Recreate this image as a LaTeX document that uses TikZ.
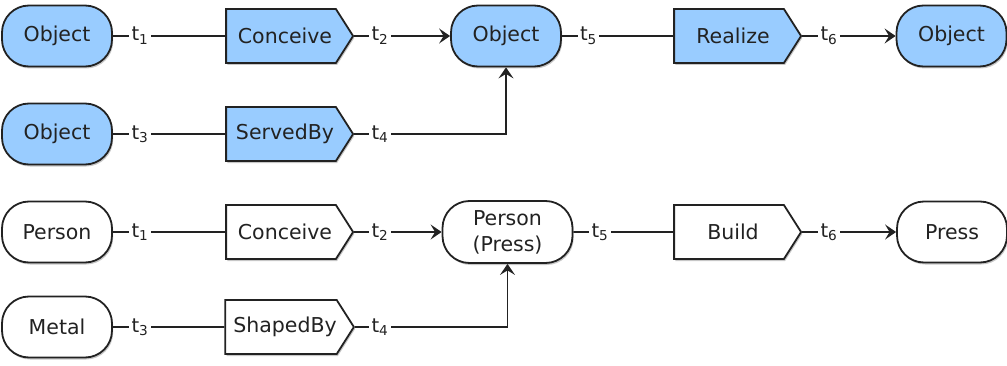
\documentclass[tikz,border=0pt]{standalone}
\usepackage{fontspec}
\setmainfont{DejaVu Sans}
\usetikzlibrary{shapes.symbols,shadows,arrows.meta}
\definecolor{objblue}{HTML}{99CCFF}
\definecolor{ink}{HTML}{222222}
\newcommand\tsub[1]{t\textsubscript{#1}\hspace{2pt}}

\begin{document}
\begin{tikzpicture}[x=1pt,y=1pt,
  font=\fontsize{20.5}{26}\selectfont,
  softshadow/.style={drop shadow={shadow xshift=1.2pt,shadow yshift=-2pt,opacity=0.22,fill=black}},
  thing/.style={draw=ink,line width=1.8pt,rectangle,rounded corners=27pt,
    minimum width=110pt,minimum height=61pt,inner sep=0pt,align=center,
    fill=white,text=ink,softshadow},
  act/.style={draw=ink,line width=1.8pt,signal,signal to=east,
    signal pointer angle=115,minimum width=127pt,minimum height=54pt,
    inner sep=0pt,fill=white,text=ink,softshadow,
    execute at begin node=\hspace*{8pt}},
  objfill/.style={fill=objblue},
  link/.style={draw=ink,line width=1.8pt},
  flow/.style={link,-{Stealth[length=11pt,width=15pt,inset=4.5pt]}},
  tlabel/.style={fill=white,text=ink,inner xsep=2.5pt,inner ysep=1pt,anchor=base,
    font=\fontsize{19.5}{21}\selectfont}
]
\useasboundingbox (0,0) rectangle (1007,365);

% object chain
\node[thing,objfill] (o1) at (57,329) {Object};
\node[act,objfill]   (c1) at (281,329) {Conceive};
\node[thing,objfill] (o2) at (506,329) {Object};
\node[act,objfill]   (rz) at (729,329) {Realize};
\node[thing,objfill] (o3) at (951.5,329) {Object};
\node[thing,objfill] (o4) at (57,231) {Object};
\node[act,objfill]   (sv) at (281,231) {ServedBy};

% person / press chain
\node[thing] (p1) at (57,133) {Person};
\node[act]   (c2) at (281,133) {Conceive};
\node[thing,minimum width=130pt,minimum height=62pt] (pp) at (507.5,133) {Person\\(Press)};
\node[act]   (bd) at (729,133) {Build};
\node[thing] (pr) at (952,133) {Press};
\node[thing] (m1) at (57,38) {Metal};
\node[act]   (sb) at (281,38) {ShapedBy};

% connectors
\draw[link] (o1) -- (c1);
\draw[flow] (c1) -- (o2);
\draw[link] (o2) -- (rz);
\draw[flow] (rz) -- (o3);
\draw[link] (o4) -- (sv);
\draw[flow] (sv.east) -| (o2.south);

\draw[link] (p1) -- (c2);
\draw[flow] (c2) -- (pp);
\draw[link] (pp) -- (bd);
\draw[flow] (bd) -- (pr);
\draw[link] (m1) -- (sb);
\draw[flow] (sb.east) -| (pp.south);

% time labels sitting on the connectors
\node[tlabel] (la1) at (140,324) {\tsub{1}};
\node[tlabel] (la2) at (380,324) {\tsub{2}};
\node[tlabel] (la5) at (588.5,324) {\tsub{5}};
\node[tlabel] (la6) at (829,324) {\tsub{6}};
\node[tlabel] (la3) at (140,226) {\tsub{3}};
\node[tlabel] (la4) at (380,226) {\tsub{4}};

\node[tlabel] (lb1) at (140,128) {\tsub{1}};
\node[tlabel] (lb2) at (380,128) {\tsub{2}};
\node[tlabel] (lb5) at (600,128) {\tsub{5}};
\node[tlabel] (lb6) at (829,128) {\tsub{6}};
\node[tlabel] (lb3) at (140,33) {\tsub{3}};
\node[tlabel] (lb4) at (380,33) {\tsub{4}};
\end{tikzpicture}
\end{document}
